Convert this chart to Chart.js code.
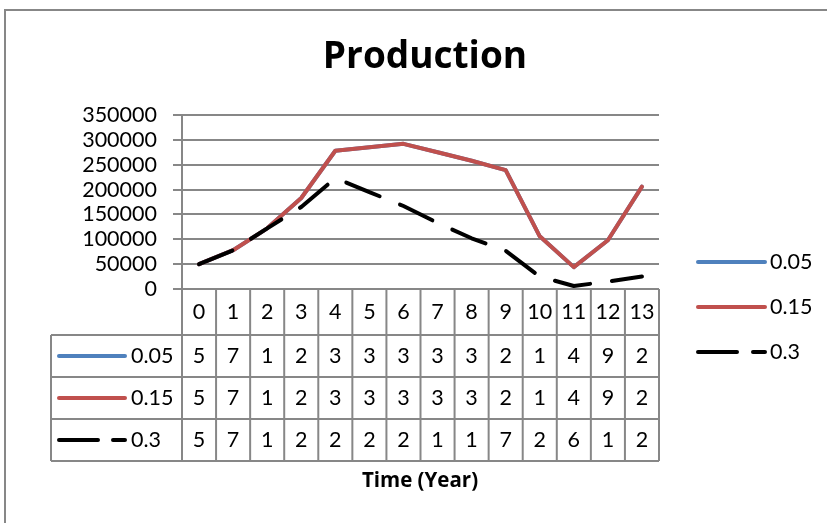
<!DOCTYPE html>
<html>
<head>
<meta charset="utf-8">
<script src="https://cdn.jsdelivr.net/npm/chart.js@4.4.1/dist/chart.umd.min.js"></script>
<style>
  html, body { margin: 0; padding: 0; background: #fff; }
  canvas { display: block; }
</style>
</head>
<body>
<canvas id="productionChart" width="827" height="523"></canvas>
<script>
// values
const years = ["0","1","2","3","4","5","6","7","8","9","10","11","12","13"];
const seriesNames = ["0.05", "0.15", "0.3"];

const rate005 = [50000, 78000, 122000, 183000, 278000, 285000, 292000, 275000, 258000, 239000, 106000, 44000, 98000, 206000];
const rate015 = [50000, 78000, 122000, 183000, 278000, 285000, 292000, 275000, 258000, 239000, 106000, 44000, 98000, 206000];
const rate03 = [50000, 78000, 122000, 165000, 223000, 195000, 167000, 133000, 102000, 77000, 25000, 6000, 15000, 25000];

// what the (too narrow) data table cells show
const cells005 = ["5","7","1","2","3","3","3","3","3","2","1","4","9","2"];
const cells015 = ["5","7","1","2","3","3","3","3","3","2","1","4","9","2"];
const cells03 = ["5","7","1","2","2","2","2","1","1","7","2","6","1","2"];

const yTicks = [0, 50000, 100000, 150000, 200000, 250000, 300000, 350000];

const FONT = "Lato";
const BOLD_FONT = "Open Sans";
const GRID = "#878787";
const colors = ["#4F81BD", "#C0504D", "#000000"];
const dashes = [[], [], [36, 22]];
const tableCells = [cells005, cells015, cells03];

function drawKey(ctx, i, x1, x2, y) {
    ctx.save();
    ctx.strokeStyle = colors[i];
    ctx.lineWidth = 4;
    ctx.lineCap = "round";
    ctx.beginPath();
    if (i === 2) {
        ctx.moveTo(x1, y);
        ctx.lineTo(x1 + 39, y);
        ctx.moveTo(x2 - 12, y);
        ctx.lineTo(x2, y);
    } else {
        ctx.moveTo(x1, y);
        ctx.lineTo(x2, y);
    }
    ctx.stroke();
    ctx.restore();
}

const tablePlugin = {
    id: "dataTable",
    afterDraw(chart) {
        const ctx = chart.ctx;
        const area = chart.chartArea;
        const xs = chart.scales.x;
        const colW = (area.right - area.left) / years.length;

        const headTop = area.bottom;
        const headBottom = 335;
        const rowH = 42;
        const tableLeft = 51;
        const tableBottom = headBottom + rowH * 3;

        ctx.save();

        // outer frame
        ctx.strokeStyle = GRID;
        ctx.lineWidth = 2;
        ctx.beginPath();
        ctx.moveTo(5, 523);
        ctx.lineTo(5, 10);
        ctx.lineTo(827, 10);
        ctx.stroke();

        // title
        ctx.fillStyle = "#000";
        ctx.textAlign = "center";
        ctx.textBaseline = "middle";
        ctx.font = "bold 37px '" + BOLD_FONT + "'";
        ctx.fillText("Production", 425, 57);

        // table grid
        ctx.strokeStyle = GRID;
        ctx.lineWidth = 2;
        ctx.beginPath();
        for (let i = 0; i <= years.length; i++) {
            const x = area.left + colW * i;
            ctx.moveTo(x, headTop);
            ctx.lineTo(x, tableBottom);
        }
        ctx.moveTo(tableLeft, headBottom);
        ctx.lineTo(tableLeft, tableBottom);
        for (let r = 0; r <= 3; r++) {
            const y = headBottom + rowH * r;
            ctx.moveTo(tableLeft, y);
            ctx.lineTo(area.right, y);
        }
        ctx.stroke();

        // header and cells
        ctx.fillStyle = "#000";
        ctx.font = "21.5px " + FONT;
        ctx.textAlign = "center";
        years.forEach((label, i) => {
            const cx = xs.getPixelForValue(i);
            ctx.fillText(label, cx, (headTop + headBottom) / 2);
            tableCells.forEach((row, r) => {
                ctx.fillText(row[i], cx, headBottom + rowH * r + rowH / 2);
            });
        });

        // row keys
        seriesNames.forEach((name, r) => {
            const cy = headBottom + rowH * r + rowH / 2;
            drawKey(ctx, r, 59, 125, cy);
            ctx.fillStyle = "#000";
            ctx.textAlign = "left";
            ctx.fillText(name, 131, cy);
        });

        // axis title
        ctx.textAlign = "center";
        ctx.font = "bold 20.5px '" + BOLD_FONT + "'";
        ctx.fillText("Time (Year)", 420, 481);

        // legend on the right
        ctx.font = "21.5px " + FONT;
        seriesNames.forEach((name, r) => {
            const cy = 262 + 45 * r;
            drawKey(ctx, r, 698, 765, cy);
            ctx.fillStyle = "#000";
            ctx.textAlign = "left";
            ctx.fillText(name, 770, cy);
        });

        ctx.restore();
    }
};

const datasets = [rate005, rate015, rate03].map((values, i) => ({
    label: seriesNames[i],
    data: values,
    borderColor: colors[i],
    backgroundColor: colors[i],
    borderWidth: 4,
    borderDash: dashes[i],
    borderCapStyle: "round",
    borderJoinStyle: "round",
    pointRadius: 0,
    tension: 0,
    order: 2 - i
}));

new Chart(
document.getElementById("productionChart"),
{
    type: "line",
    data: {
        labels: years,
        datasets: datasets
    },
    options: {
        responsive: false,
        animation: false,
        layout: {
            padding: { left: 0, top: 115, right: 168, bottom: 234 }
        },
        plugins: {
            legend: { display: false },
            title: { display: false },
            tooltip: { enabled: false }
        },
        scales: {
            x: {
                display: false,
                offset: true
            },
            y: {
                min: 0,
                max: 350000,
                afterBuildTicks(scale) {
                    scale.ticks = yTicks.map(v => ({ value: v }));
                },
                afterFit(scale) {
                    scale.width = 182;
                },
                ticks: {
                    autoSkip: false,
                    color: "#000",
                    font: { family: FONT, size: 21.5 },
                    padding: 16,
                    callback: v => String(v)
                },
                grid: {
                    color: GRID,
                    lineWidth: 2,
                    tickLength: 9
                },
                border: {
                    color: GRID,
                    width: 2
                }
            }
        }
    },
    plugins: [tablePlugin]
}
);
</script>
</body>
</html>
